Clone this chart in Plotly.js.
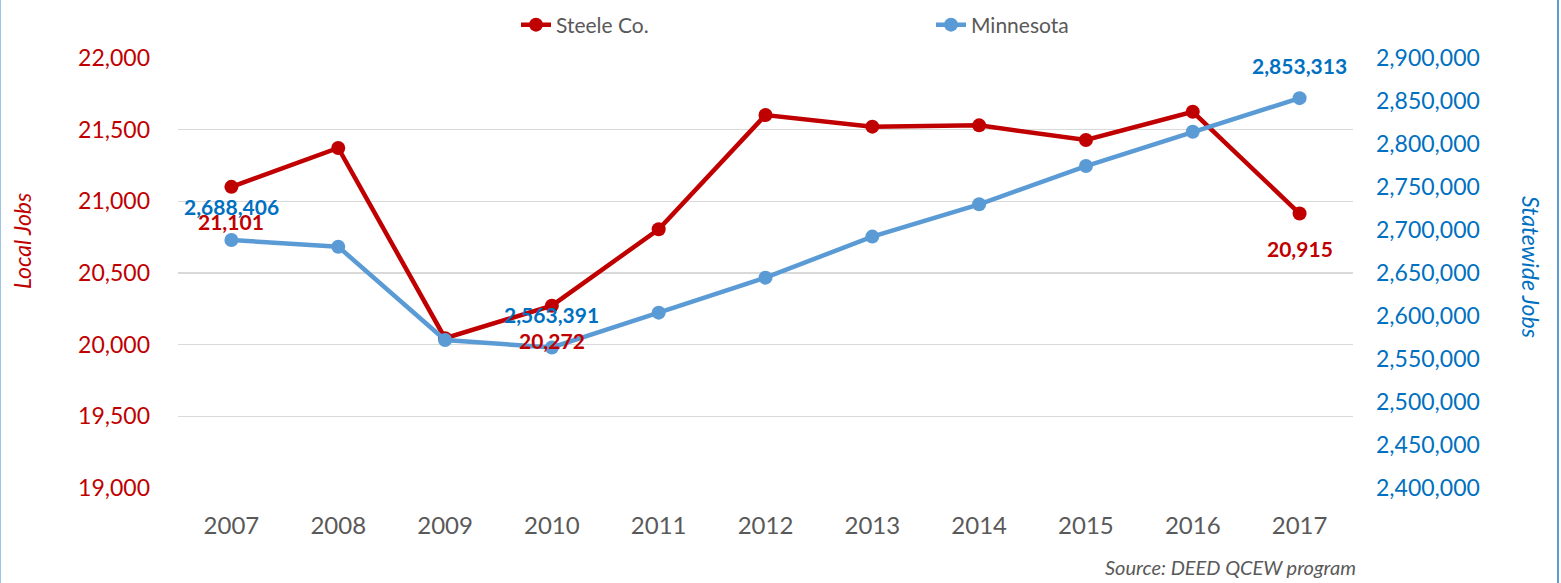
<!DOCTYPE html>
<html>
<head>
<meta charset="utf-8">
<script src="https://cdn.plot.ly/plotly-3.0.1.min.js"></script>
<style>
  html, body { margin: 0; padding: 0; background: #fff; }
  #wrap { position: relative; width: 1561px; height: 583px; overflow: hidden; }
  #chart { position: absolute; left: 0; top: 0; width: 1561px; height: 583px; }
  #bl { position: absolute; left: 0; top: 0; width: 1px; height: 583px; background: #9DC3E6; }
  #br { position: absolute; left: 1557px; top: 0; width: 2px; height: 583px; background: #5B9BD5; }
</style>
</head>
<body>
<div id="wrap">
  <div id="chart"></div>
  <div id="bl"></div>
  <div id="br"></div>
</div>
<script>
// ---- data ----
const years = ['2007','2008','2009','2010','2011','2012','2013','2014','2015','2016','2017'];
const steeleJobs = [21101, 21372, 20045, 20272, 20805, 21602, 21521, 21530, 21428, 21625, 20915];
const minnesotaJobs = [2688406, 2680600, 2572100, 2563391, 2603900, 2644600, 2692300, 2729900, 2774400, 2814300, 2853313];
const labeledYears = ['2007', '2010', '2017'];
const leftTicks = [19000, 19500, 20000, 20500, 21000, 21500, 22000];
const rightTicks = [2400000, 2450000, 2500000, 2550000, 2600000, 2650000, 2700000, 2750000, 2800000, 2850000, 2900000];

const RED = '#C00000';
const LINEBLUE = '#5B9BD5';
const TEXTBLUE = '#0070C0';
const GRAY = '#595959';
const FONT = 'Lato, "Open Sans", sans-serif';

const fmt = v => v.toLocaleString('en-US');

const traces = [
  {
    x: years, y: steeleJobs, name: 'Steele Co.', type: 'scatter', mode: 'lines+markers',
    line: {color: RED, width: 4.5}, marker: {color: RED, size: 14},
    yaxis: 'y', cliponaxis: false, hoverinfo: 'x+y'
  },
  {
    x: years, y: minnesotaJobs, name: 'Minnesota', type: 'scatter', mode: 'lines+markers',
    line: {color: LINEBLUE, width: 4.5}, marker: {color: LINEBLUE, size: 14},
    yaxis: 'y2', cliponaxis: false, hoverinfo: 'x+y'
  }
];

const annotations = [];
labeledYears.forEach(yr => {
  const i = years.indexOf(yr);
  annotations.push({
    x: i, y: minnesotaJobs[i], xref: 'x', yref: 'y2', text: fmt(minnesotaJobs[i]),
    showarrow: false, yshift: 33, font: {family: FONT, size: 21, color: TEXTBLUE, weight: 'bold'}
  });
  annotations.push({
    x: i, y: steeleJobs[i], xref: 'x', yref: 'y', text: fmt(steeleJobs[i]),
    showarrow: false, yshift: -35, font: {family: FONT, size: 21, color: RED, weight: 'bold'}
  });
});
annotations.push({
  xref: 'paper', yref: 'paper', x: -156/1175, y: (488-241)/430, xanchor: 'center', yanchor: 'middle',
  text: 'Local Jobs',
  textangle: -90, showarrow: false, font: {family: FONT, size: 23, color: RED, style: 'italic'}
});
annotations.push({
  xref: 'paper', yref: 'paper', x: (1531-178)/1175, y: (488-267)/430, xanchor: 'center', yanchor: 'middle',
  text: 'Statewide Jobs',
  textangle: 90, showarrow: false, font: {family: FONT, size: 23, color: TEXTBLUE, style: 'italic'}
});
annotations.push({
  xref: 'paper', yref: 'paper', x: (1358-178)/1175, y: -(567-488)/430, xanchor: 'right', yanchor: 'middle',
  text: 'Source: DEED QCEW program', showarrow: false,
  font: {family: FONT, size: 20, color: GRAY, style: 'italic'}
});

const layout = {
  width: 1561, height: 583,
  margin: {l: 178, r: 208, t: 58, b: 95, autoexpand: false},
  paper_bgcolor: '#fff', plot_bgcolor: '#fff',
  font: {family: FONT},
  showlegend: true,
  legend: {
    orientation: 'h', x: (516-178)/1175, xanchor: 'left', y: 1 + (58-25)/430, yanchor: 'middle',
    entrywidth: 370, entrywidthmode: 'pixels',
    font: {family: FONT, size: 21, color: GRAY}, bgcolor: 'rgba(0,0,0,0)'
  },
  xaxis: {
    type: 'category', range: [-0.5, years.length - 0.5], autorange: false,
    showgrid: false, zeroline: false, showline: false, ticks: '',
    tickfont: {family: FONT, size: 24, color: GRAY}, ticklabelstandoff: 21, fixedrange: true
  },
  yaxis: {
    range: [19000, 22000], autorange: false, tickvals: leftTicks, ticktext: leftTicks.map(fmt),
    showgrid: true, gridcolor: '#D9D9D9', gridwidth: 1.5, zeroline: false, showline: false, ticks: '',
    tickfont: {family: FONT, size: 23, color: RED}, ticklabelstandoff: 27, fixedrange: true
  },
  yaxis2: {
    range: [2400000, 2900000], autorange: false, tickvals: rightTicks, ticktext: rightTicks.map(fmt),
    overlaying: 'y', side: 'right', showgrid: false, zeroline: false, showline: false, ticks: '',
    tickfont: {family: FONT, size: 23, color: TEXTBLUE}, ticklabelstandoff: 22, fixedrange: true
  },
  annotations: annotations
};

Plotly.newPlot('chart', traces, layout, {displayModeBar: false, staticPlot: true});
</script>
</body>
</html>
